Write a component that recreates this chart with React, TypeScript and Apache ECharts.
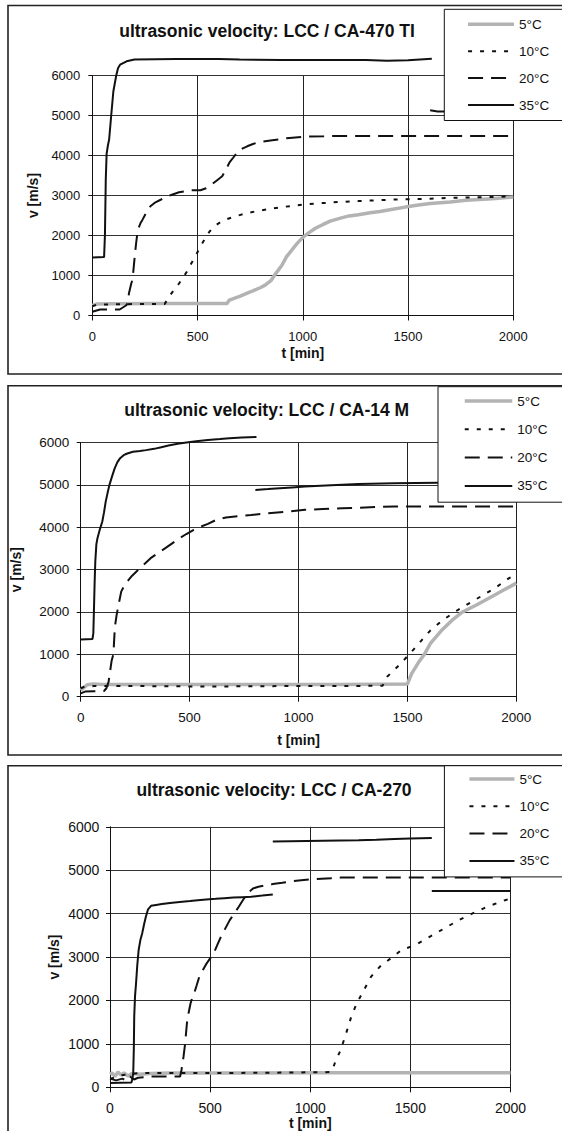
import React, { useEffect, useRef } from "react";
import * as echarts from "echarts";

// ---------- data ----------
const SERIES_NAMES = ["5°C", "10°C", "20°C", "35°C"];
const TITLES = [
  "ultrasonic velocity: LCC / CA-470 TI",
  "ultrasonic velocity: LCC / CA-14 M",
  "ultrasonic velocity: LCC / CA-270",
];
const X_NAME = "t [min]";
const Y_NAME = "v [m/s]";

type P = [number, number | null];

// Chart 1: CA-470 TI
const ca470_5C: P[] = [[0,250],[20,285],[100,295],[300,300],[500,300],[640,300],[651,385],[700,480],[753,594],[800,700],[821,760],[850,880],[872,1054],[900,1250],[923,1470],[950,1650],[974,1810],[1000,1950],[1026,2060],[1060,2180],[1094,2270],[1130,2360],[1179,2435],[1220,2490],[1264,2520],[1320,2570],[1366,2600],[1420,2650],[1486,2710],[1550,2760],[1605,2800],[1700,2840],[1775,2880],[1900,2920],[2000,2960]];
const ca470_10C: P[] = [[0,230],[20,270],[100,280],[200,285],[344,290],[370,510],[390,650],[412,800],[435,980],[455,1140],[470,1300],[489,1470],[505,1640],[523,1810],[540,1960],[557,2100],[580,2230],[608,2330],[635,2400],[668,2460],[700,2510],[736,2560],[790,2620],[838,2660],[900,2710],[957,2745],[1020,2780],[1094,2810],[1180,2840],[1264,2860],[1350,2880],[1434,2900],[1520,2910],[1605,2920],[1700,2940],[1775,2950],[1900,2965],[2000,2980]];
const ca470_20C: P[] = [[0,95],[37,150],[60,150],[130,150],[145,200],[160,250],[168,300],[174,550],[185,800],[191,890],[200,1390],[208,1800],[216,2140],[230,2320],[238,2390],[255,2560],[276,2730],[300,2830],[327,2900],[350,2960],[378,3020],[412,3080],[463,3130],[514,3130],[540,3180],[566,3270],[590,3370],[617,3480],[635,3650],[651,3820],[670,3950],[693,4110],[715,4180],[736,4230],[760,4280],[787,4330],[855,4380],[923,4430],[1009,4470],[1100,4480],[1179,4490],[1400,4490],[2000,4490]];
const ca470_35C: P[] = [[0,1450],[56,1460],[60,2000],[64,3400],[68,4040],[74,4250],[80,4400],[89,4950],[100,5600],[113,5980],[122,6180],[132,6270],[163,6355],[200,6400],[400,6410],[600,6410],[700,6400],[900,6390],[1100,6390],[1300,6390],[1400,6370],[1500,6380],[1613,6420],[1610,null],[1605,5130],[1640,5100],[2000,5100]];

// Chart 2: CA-14 M
const ca14_5C: P[] = [[0,150],[15,220],[30,280],[60,300],[100,290],[300,290],[800,290],[1200,290],[1500,300],[1520,550],[1550,800],[1578,1000],[1605,1250],[1654,1550],[1704,1800],[1753,2000],[1819,2170],[1901,2400],[1950,2540],[2000,2680]];
const ca14_10C: P[] = [[0,200],[20,240],[60,250],[300,250],[600,240],[900,250],[1200,250],[1386,260],[1407,470],[1457,720],[1506,985],[1547,1220],[1580,1420],[1605,1560],[1663,1810],[1720,2010],[1770,2165],[1835,2360],[1901,2560],[1967,2800],[2000,2890]];
const ca14_20C: P[] = [[0,80],[20,120],[60,130],[107,135],[118,200],[128,350],[135,600],[142,850],[150,1000],[157,1650],[165,1930],[175,2200],[186,2480],[200,2620],[214,2720],[235,2850],[255,2950],[290,3120],[321,3270],[355,3390],[387,3500],[420,3620],[453,3740],[485,3840],[519,3940],[550,4010],[584,4080],[625,4180],[667,4230],[720,4260],[782,4290],[860,4330],[947,4370],[1030,4410],[1111,4430],[1200,4450],[1276,4460],[1360,4480],[1440,4490],[2000,4490]];
const ca14_35C: P[] = [[0,1350],[54,1360],[58,1500],[61,2090],[64,2700],[67,3190],[72,3600],[77,3740],[88,3950],[99,4130],[107,4350],[115,4610],[123,4800],[132,5000],[144,5200],[156,5390],[168,5530],[181,5630],[197,5700],[214,5740],[240,5780],[272,5800],[300,5820],[337,5850],[370,5890],[403,5930],[445,5970],[486,6000],[530,6030],[584,6060],[640,6080],[683,6100],[740,6120],[807,6130],[808,null],[802,4880],[860,4900],[914,4920],[970,4940],[1029,4960],[1150,4990],[1276,5020],[1440,5040],[1640,5050],[2000,5060]];

// Chart 3: CA-270
const ca270_5C: P[] = [[0,300],[10,330],[25,250],[40,350],[55,280],[70,330],[90,260],[110,320],[150,300],[200,320],[300,330],[600,330],[1000,335],[1500,335],[2000,335]];
const ca270_10C: P[] = [[0,200],[30,230],[60,280],[100,300],[150,330],[300,330],[600,330],[900,340],[1098,350],[1110,380],[1125,590],[1152,860],[1179,1240],[1205,1630],[1232,1930],[1268,2240],[1304,2550],[1348,2780],[1402,2970],[1455,3160],[1527,3280],[1598,3470],[1670,3660],[1741,3850],[1813,4010],[1884,4160],[1973,4310],[2000,4350]];
const ca270_20C: P[] = [[0,200],[30,160],[62,200],[80,150],[100,250],[120,180],[140,220],[170,230],[205,250],[300,250],[350,250],[357,400],[367,700],[375,1000],[384,1470],[392,1700],[402,1930],[410,2050],[420,2160],[433,2350],[446,2550],[464,2700],[482,2850],[500,2970],[518,3090],[536,3280],[554,3470],[576,3660],[598,3850],[620,4000],[643,4160],[665,4320],[688,4470],[714,4580],[741,4620],[775,4650],[813,4680],[860,4710],[902,4740],[955,4770],[1009,4790],[1080,4810],[1152,4830],[1420,4830],[2000,4830]];
const ca270_35C: P[] = [[0,100],[50,105],[107,110],[112,200],[116,320],[119,900],[121,1630],[125,2100],[130,2390],[136,2800],[143,3160],[152,3400],[161,3550],[170,3750],[179,3930],[190,4100],[205,4180],[230,4200],[259,4220],[300,4245],[348,4270],[400,4290],[438,4310],[480,4325],[527,4340],[570,4355],[616,4370],[660,4380],[705,4390],[760,4415],[813,4440],[814,null],[813,5660],[900,5670],[1063,5680],[1150,5685],[1241,5690],[1330,5700],[1420,5720],[1500,5730],[1607,5740],[1608,null],[1607,4520],[2000,4520]];

const CHART_DATA: P[][][] = [
  [ca470_5C, ca470_10C, ca470_20C, ca470_35C],
  [ca14_5C, ca14_10C, ca14_20C, ca14_35C],
  [ca270_5C, ca270_10C, ca270_20C, ca270_35C],
];

// ---------- layout / styles ----------
const FONT = "'Liberation Sans', Arial, sans-serif";
const INK = "#111";

const LAYOUT = [
  {
    box: [8, 5.5, 620, 368.5],
    grid: { left: 92.3, top: 75.5, width: 421, height: 240 },
    title: [267, 31.5],
    legend: { left: 444.3, top: 9.3, padding: [8, 40, 8.5, 22], itemGap: 12.9, itemWidth: 46 },
    yNameGap: 52, xNameGap: 30.5, label: 13, yMargin: 12, xMargin: 14,
  },
  {
    box: [8, 385.7, 620, 369.3],
    grid: { left: 80.7, top: 442.5, width: 435.6, height: 254.2 },
    title: [266.7, 410.7],
    legend: { left: 438, top: 386.7, padding: [7.3, 40, 9.3, 25], itemGap: 14.3, itemWidth: 47.5 },
    yNameGap: 57.7, xNameGap: 36.3, label: 13.5, yMargin: 11.4, xMargin: 14,
  },
  {
    box: [8, 765.7, 620, 400],
    grid: { left: 110, top: 826.8, width: 400.5, height: 260.5 },
    title: [274, 790.7],
    legend: { left: 444.4, top: 765.7, padding: [6.3, 40, 9, 23.3], itemGap: 13.3, itemWidth: 45 },
    yNameGap: 49, xNameGap: 28.7, label: 14, yMargin: 10.7, xMargin: 14,
  },
];

const LINE_STYLES: any[] = [
  { color: "#b3b3b3", width: 3.5, type: "solid" },
  { color: INK, width: 2, type: [4, 8] },
  { color: INK, width: 2, type: [15, 8] },
  { color: INK, width: 2, type: "solid" },
];

const plain = (v: number) => String(v);

function buildOption() {
  const grid: any[] = [];
  const xAxis: any[] = [];
  const yAxis: any[] = [];
  const title: any[] = [];
  const legend: any[] = [];
  const series: any[] = [];
  const graphic: any[] = [];

  LAYOUT.forEach((L, i) => {
    graphic.push({
      type: "rect",
      silent: true,
      shape: { x: L.box[0], y: L.box[1], width: L.box[2], height: L.box[3] },
      style: { fill: "none", stroke: "#222", lineWidth: 1.6 },
    });
    grid.push({ ...L.grid, containLabel: false });
    title.push({
      text: TITLES[i],
      left: L.title[0],
      top: L.title[1] - 9.5,
      textAlign: "center",
      padding: 0,
      textStyle: { fontFamily: FONT, fontWeight: "bold", fontSize: 17.5, color: INK },
    });
    legend.push({
      orient: "vertical",
      align: "left",
      left: L.legend.left,
      top: L.legend.top,
      padding: L.legend.padding,
      itemGap: L.legend.itemGap,
      itemWidth: L.legend.itemWidth,
      itemHeight: 14,
      backgroundColor: "#fff",
      borderColor: INK,
      borderWidth: 1,
      borderRadius: 0,
      selectedMode: false,
      data: SERIES_NAMES,
      itemStyle: { opacity: 0 },
      lineStyle: { width: "inherit" },
      textStyle: { fontFamily: FONT, fontSize: 13.5, color: INK, lineHeight: 14 },
    });
    xAxis.push({
      type: "value",
      gridIndex: i,
      min: 0,
      max: 2000,
      interval: 500,
      name: X_NAME,
      nameLocation: "middle",
      nameGap: L.xNameGap,
      nameMoveOverlap: false,
      nameTextStyle: { fontFamily: FONT, fontWeight: "bold", fontSize: 14, color: INK },
      axisLine: { show: true, onZero: false, lineStyle: { color: INK, width: 1 } },
      axisTick: { show: true, length: 5, lineStyle: { color: INK } },
      axisLabel: { fontFamily: FONT, fontSize: L.label, color: INK, margin: L.xMargin, formatter: plain },
      splitLine: { show: true, lineStyle: { color: "#222", width: 1 } },
    });
    yAxis.push({
      type: "value",
      gridIndex: i,
      min: 0,
      max: 6000,
      interval: 1000,
      name: Y_NAME,
      nameLocation: "middle",
      nameGap: L.yNameGap,
      nameMoveOverlap: false,
      nameTextStyle: { fontFamily: FONT, fontWeight: "bold", fontSize: 14, color: INK },
      axisLine: { show: true, lineStyle: { color: INK, width: 1 } },
      axisTick: { show: true, length: 4, lineStyle: { color: INK } },
      axisLabel: { fontFamily: FONT, fontSize: L.label, color: INK, margin: L.yMargin, formatter: plain },
      splitLine: { show: true, lineStyle: { color: "#333", width: 1 } },
    });
    CHART_DATA[i].forEach((data, k) => {
      series.push({
        type: "line",
        name: SERIES_NAMES[k],
        xAxisIndex: i,
        yAxisIndex: i,
        data,
        symbol: "none",
        showSymbol: false,
        clip: false,
        connectNulls: false,
        silent: true,
        itemStyle: { color: LINE_STYLES[k].color },
        lineStyle: LINE_STYLES[k],
        z: 2 + k * 0.1,
      });
    });
  });

  return {
    animation: false,
    backgroundColor: "#fff",
    grid,
    xAxis,
    yAxis,
    title,
    legend,
    series,
    graphic,
  };
}

export default function App() {
  const ref = useRef<HTMLDivElement>(null);
  useEffect(() => {
    if (!ref.current) return;
    const chart = echarts.init(ref.current, undefined, { renderer: "svg" });
    chart.setOption(buildOption() as any);
    return () => chart.dispose();
  }, []);
  return (
    <div
      ref={ref}
      style={{ position: "absolute", left: 0, top: 0, width: 562, height: 1131, background: "#fff" }}
    />
  );
}
